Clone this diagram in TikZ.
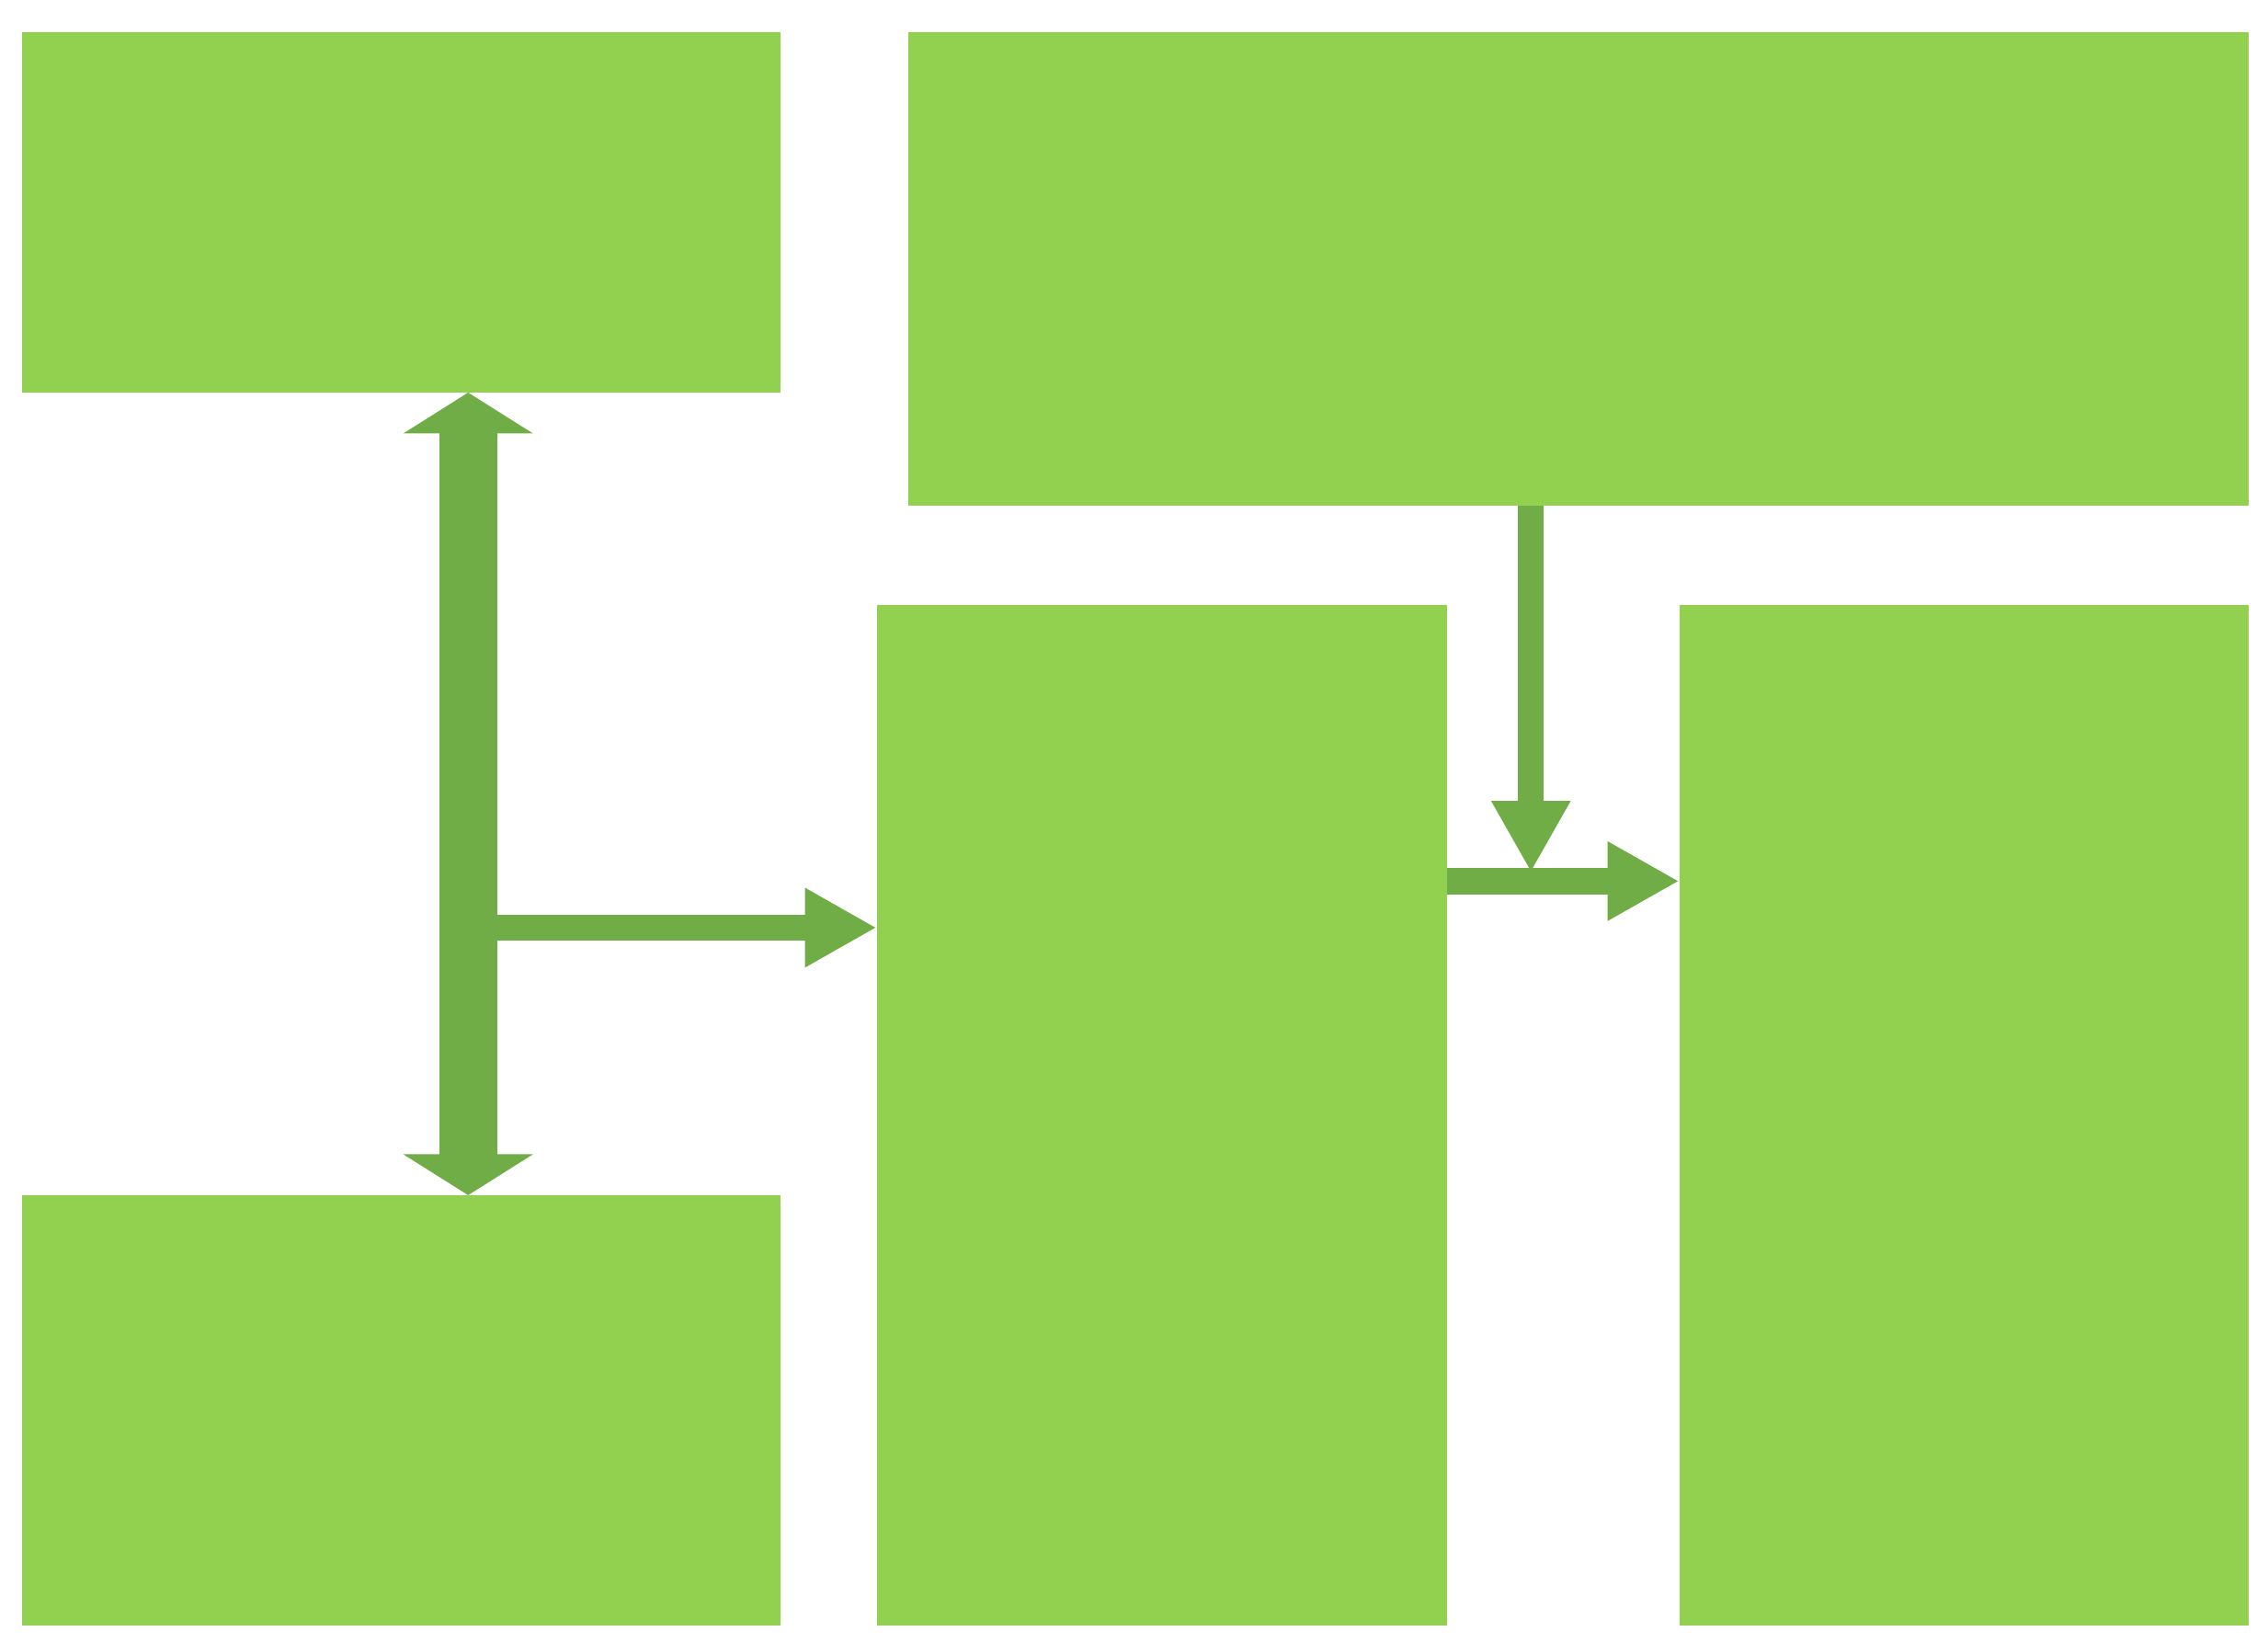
\documentclass[tikz,border=0pt]{standalone}
\usepackage{fontspec}
\setmainfont{Liberation Serif}
\usetikzlibrary{arrows.meta}
\definecolor{boxg}{HTML}{92D050}
\definecolor{arrg}{HTML}{70AD47}
\begin{document}
\begin{tikzpicture}[x=0.01cm,y=-0.01cm,
  box/.style={inner sep=0pt,align=center,font=\fontsize{14}{14.8}\selectfont},
  thick arr/.style={draw=arrg,line width=11.4pt,{Triangle[length=8pt,width=25pt]}-{Triangle[length=8pt,width=25pt]}},
  thin arr/.style={draw=arrg,line width=5.1pt,-{Triangle[length=14pt,width=14.5pt]}}]
\fill[white] (0,0) rectangle (1560,1130);
\fill[boxg] (15,22) rectangle (537,270) node[midway,box] (tech) {\textbf{Technical Side of Waste}\\\textbf{Management}};
\coordinate (techS) at (322,270);
\fill[boxg] (625,22) rectangle (1547,348) node[midway,box] (acc) {\textbf{Acceptance of People}\\( Perceived Ease of use, Perceived Usefulness)};
\coordinate (accS) at (1053,348);
\fill[boxg] (15,822) rectangle (537,1118) node[midway,box] (mark) {\textbf{Marketing of Waste}\\\textbf{Management}};
\coordinate (markN) at (322,822);
\fill[boxg] (603,416) rectangle (995,1118) node[midway,box,yshift=-1pt] (cust) {\textbf{Customer}\\\textbf{Experience}\\\textbf{Management}\\[14.8pt]Behavioural\\perspectives are\\vital to study in\\parallel with\\operations};
\fill[boxg] (1155,416) rectangle (1547,1118) node[midway,box,yshift=-1pt] (out) {\textbf{Outcome}\\[14.8pt](Sustainability,\\Optimal usage of\\energy and\\natural\\resources)\ \ based\\on three pillars\\e.g., Economic,\\social and\\Enviornmental\\aspects.};
\coordinate (custW) at (603,638);
\coordinate (vshaft) at (342,638);
\coordinate (custE) at (995,606);
\coordinate (outW) at (1155,606);
\coordinate (join) at (1053,600);
\draw[thick arr] (techS) -- (markN);
\draw[thin arr] (vshaft) -- (custW);
\draw[thin arr] (accS) -- (join);
\draw[thin arr] (custE) -- (outW);
\end{tikzpicture}
\end{document}
